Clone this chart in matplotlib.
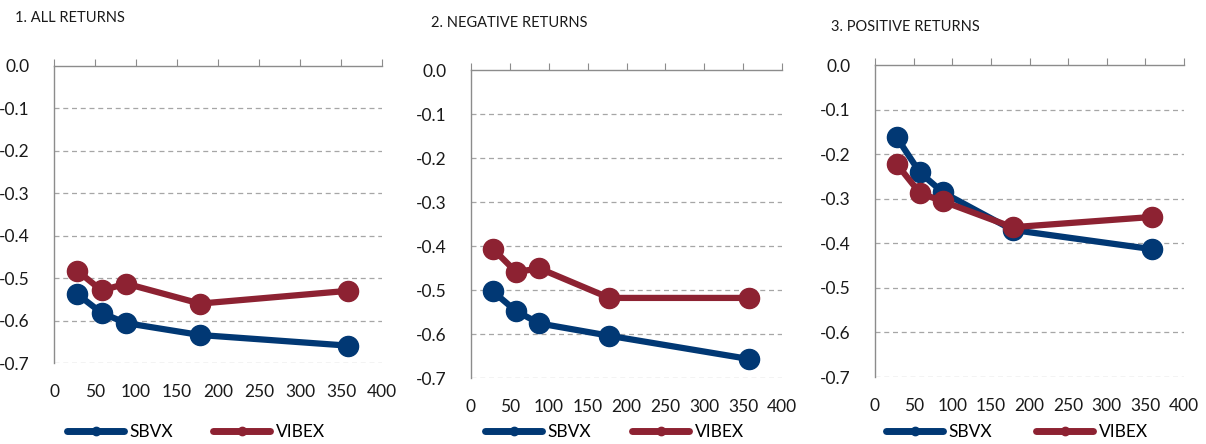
import matplotlib
matplotlib.use("Agg")
import matplotlib.pyplot as plt
from matplotlib.lines import Line2D

plt.rcParams['font.family'] = ['Lato', 'DejaVu Sans']

# horizon (days) on the x axis
horizon = [28, 58, 88, 178, 358]

titles = ["1. ALL RETURNS", "2. NEGATIVE RETURNS", "3. POSITIVE RETURNS"]

# panel 1: all returns
sbvx_all = [-0.537, -0.582, -0.606, -0.634, -0.659]
vibex_all = [-0.482, -0.529, -0.513, -0.560, -0.530]
# panel 2: negative returns
sbvx_neg = [-0.503, -0.548, -0.576, -0.604, -0.657]
vibex_neg = [-0.406, -0.459, -0.451, -0.518, -0.518]
# panel 3: positive returns
sbvx_pos = [-0.162, -0.241, -0.286, -0.370, -0.413]
vibex_pos = [-0.222, -0.287, -0.306, -0.364, -0.341]

sbvx = [sbvx_all, sbvx_neg, sbvx_pos]
vibex = [vibex_all, vibex_neg, vibex_pos]

navy = "#013874"
red = "#8d2232"
grey = "#a6a6a6"

W, H = 1206, 444
fig = plt.figure(figsize=(W / 100, H / 100), dpi=100)

# axes boxes in pixels: left, right, top, bottom
boxes = [(54, 382, 66, 363), (471, 782, 70, 378), (875, 1184, 65, 377)]
title_pos = [(15, 18), (431, 23), (831, 27)]
legend_x = [(67, 213), (485, 632), (886, 1036)]

for i in range(3):
    l, r, t, b = boxes[i]
    ax = fig.add_axes([l / W, 1 - b / H, (r - l) / W, (b - t) / H])
    ax.plot(horizon, sbvx[i], color=navy, lw=4.5, marker='o', ms=14.5,
            solid_capstyle='round', zorder=3)
    ax.plot(horizon, vibex[i], color=red, lw=4.5, marker='o', ms=14.5,
            solid_capstyle='round', zorder=4)
    ax.set_xlim(0, 400)
    ax.set_ylim(-0.7, 0.0)
    ax.set_xticks(range(0, 401, 50))
    ax.set_yticks([0.0, -0.1, -0.2, -0.3, -0.4, -0.5, -0.6, -0.7])
    ax.set_yticklabels(["0.0", "-0.1", "-0.2", "-0.3", "-0.4", "-0.5", "-0.6", "-0.7"])
    for y in [-0.1, -0.2, -0.3, -0.4, -0.5, -0.6, -0.7]:
        ax.axhline(y, color=grey, lw=0.9, ls=(0, (4, 3)), zorder=1)
    for s in ['right', 'bottom']:
        ax.spines[s].set_visible(False)
    for s in ['left', 'top']:
        ax.spines[s].set_color("#8c8c8c")
        ax.spines[s].set_linewidth(1.0)
    ax.tick_params(axis='x', top=True, bottom=False, labelbottom=True,
                   labeltop=False, direction='out', length=5, color="#8c8c8c",
                   labelsize=12.5, pad=10, labelcolor="#1a1a1a")
    ax.tick_params(axis='y', left=False, labelsize=12.5, pad=14, labelcolor="#1a1a1a")
    for lab in ax.get_yticklabels():
        lab.set_horizontalalignment('right')

    tx, ty = title_pos[i]
    fig.text(tx / W, 1 - ty / H, titles[i], fontsize=10.5, va='center',
             ha='left', color="#1a1a1a")

    # legend handles with small markers
    h1 = Line2D([], [], color=navy, lw=5, marker='o', ms=6, solid_capstyle='round')
    h2 = Line2D([], [], color=red, lw=5, marker='o', ms=6, solid_capstyle='round')
    lx1, lx2 = legend_x[i]
    fig.legend([h1], ["SBVX"], loc='center left',
               bbox_to_anchor=(lx1 / W, 1 - 432 / H), frameon=False,
               borderpad=0, borderaxespad=0, handlelength=3.3,
               handletextpad=0.3, fontsize=12.5)
    fig.legend([h2], ["VIBEX"], loc='center left',
               bbox_to_anchor=(lx2 / W, 1 - 432 / H), frameon=False,
               borderpad=0, borderaxespad=0, handlelength=3.3,
               handletextpad=0.3, fontsize=12.5)

fig.savefig("out.png", dpi=100, facecolor='white')
